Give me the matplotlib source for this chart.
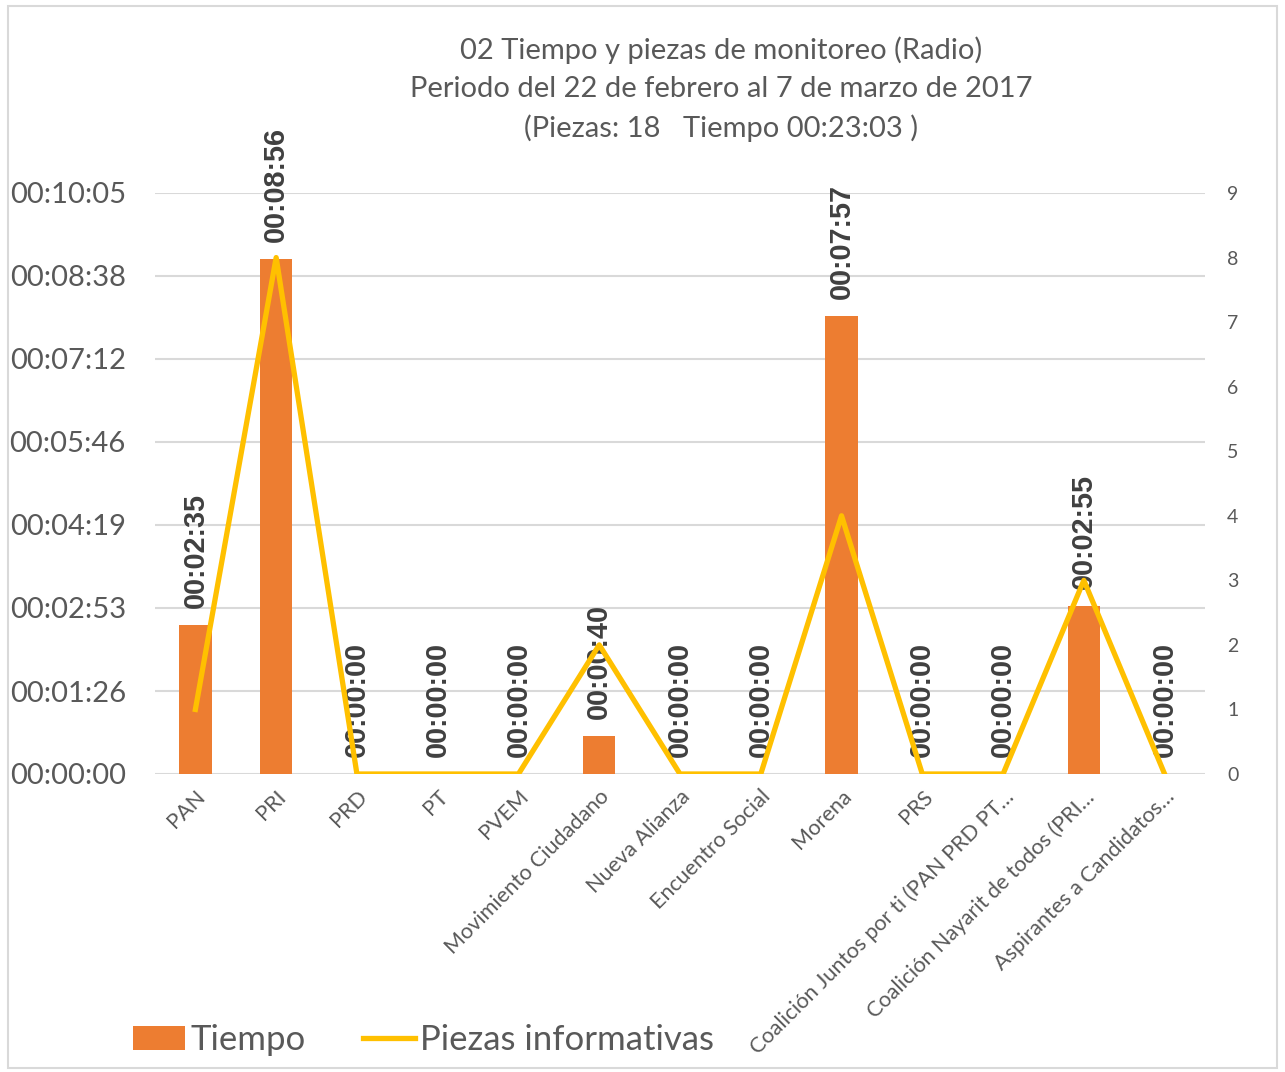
import matplotlib
matplotlib.use("Agg")
import matplotlib.pyplot as plt
from matplotlib.patches import Rectangle, Patch
from matplotlib.lines import Line2D
from matplotlib.ticker import FuncFormatter, MultipleLocator

# datos
partidos = ["PAN", "PRI", "PRD", "PT", "PVEM", "Movimiento Ciudadano",
            "Nueva Alianza", "Encuentro Social", "Morena", "PRS",
            "Coalición Juntos por ti (PAN PRD PT…",
            "Coalición Nayarit de todos (PRI…",
            "Aspirantes a Candidatos…"]
tiempo_seg = [155, 536, 0, 0, 0, 40, 0, 0, 477, 0, 0, 175, 0]
piezas = [1, 8, 0, 0, 0, 2, 0, 0, 4, 0, 0, 3, 0]

titulo = ["02 Tiempo y piezas de monitoreo (Radio)",
          "Periodo del 22 de febrero al 7 de marzo de 2017",
          "(Piezas: 18   Tiempo 00:23:03 )"]

GRIS = "#595959"
NARANJA = "#ED7D31"
AMARILLO = "#FFC000"


def hms(s):
    s = int(round(s))
    return "%02d:%02d:%02d" % (s // 3600, (s % 3600) // 60, s % 60)


plt.rcParams['font.family'] = ['Lato', 'DejaVu Sans']

fig = plt.figure(figsize=(12.85, 10.72), dpi=100)
fig.patches.append(Rectangle((0.006, 0.004), 0.988, 0.99, transform=fig.transFigure,
                             fill=False, edgecolor="#D9D9D9", linewidth=1.5))
ax = fig.add_axes([155 / 1285, 1 - 774 / 1072, 1050 / 1285, 581 / 1072])
ax2 = ax.twinx()

x = list(range(len(partidos)))
ax.bar(x, tiempo_seg, width=0.4, color=NARANJA, zorder=2)
ax.set_xlim(-0.5, len(partidos) - 0.5)
ax.set_ylim(0, 604.8)
ax.yaxis.set_major_locator(MultipleLocator(86.4))
ax.yaxis.set_major_formatter(FuncFormatter(lambda v, p: hms(v)))
ax.grid(axis="y", color="#D9D9D9", linewidth=1.5, zorder=0)
ax.set_axisbelow(True)

ax2.plot(x, piezas, color=AMARILLO, linewidth=3.8, zorder=3)
ax2.set_ylim(0, 9)
ax2.yaxis.set_major_locator(MultipleLocator(1))

for a in (ax, ax2):
    for sp in a.spines.values():
        sp.set_visible(False)
ax.tick_params(axis="y", length=0, pad=21, labelsize=21, labelcolor=GRIS)
ax2.tick_params(axis="y", length=0, pad=16, labelsize=14, labelcolor=GRIS)
ax.tick_params(axis="x", length=0, pad=9)
ax.set_xticks(x)
ax.set_xticklabels(partidos, rotation=45, ha="right", rotation_mode="anchor",
                   fontsize=15.6, color=GRIS)

# etiquetas de datos
for xi, v in zip(x, tiempo_seg):
    ax.annotate(hms(v), (xi, v), xytext=(0, 12), textcoords="offset points",
                rotation=90, ha="center", va="bottom", fontsize=20.8,
                fontweight="bold", color="#404040",
                family="Liberation Sans", zorder=5)

# titulo
for i, t in enumerate(titulo):
    fig.text(721 / 1285, 1 - (50 + 39 * i) / 1072, t, ha="center", va="center",
             fontsize=21, color=GRIS)

# leyenda
handles = [Patch(facecolor=NARANJA, edgecolor="none"),
           Line2D([0], [0], color=AMARILLO, linewidth=3.8)]
fig.legend(handles, ["Tiempo", "Piezas informativas"], loc="center left",
           bbox_to_anchor=(133 / 1285, 1 - 1040 / 1072), ncol=2, frameon=False,
           fontsize=25, labelcolor=GRIS, handlelength=1.5, handletextpad=0.15,
           columnspacing=1.65, borderpad=0, borderaxespad=0)

fig.savefig("out.png", dpi=100)
